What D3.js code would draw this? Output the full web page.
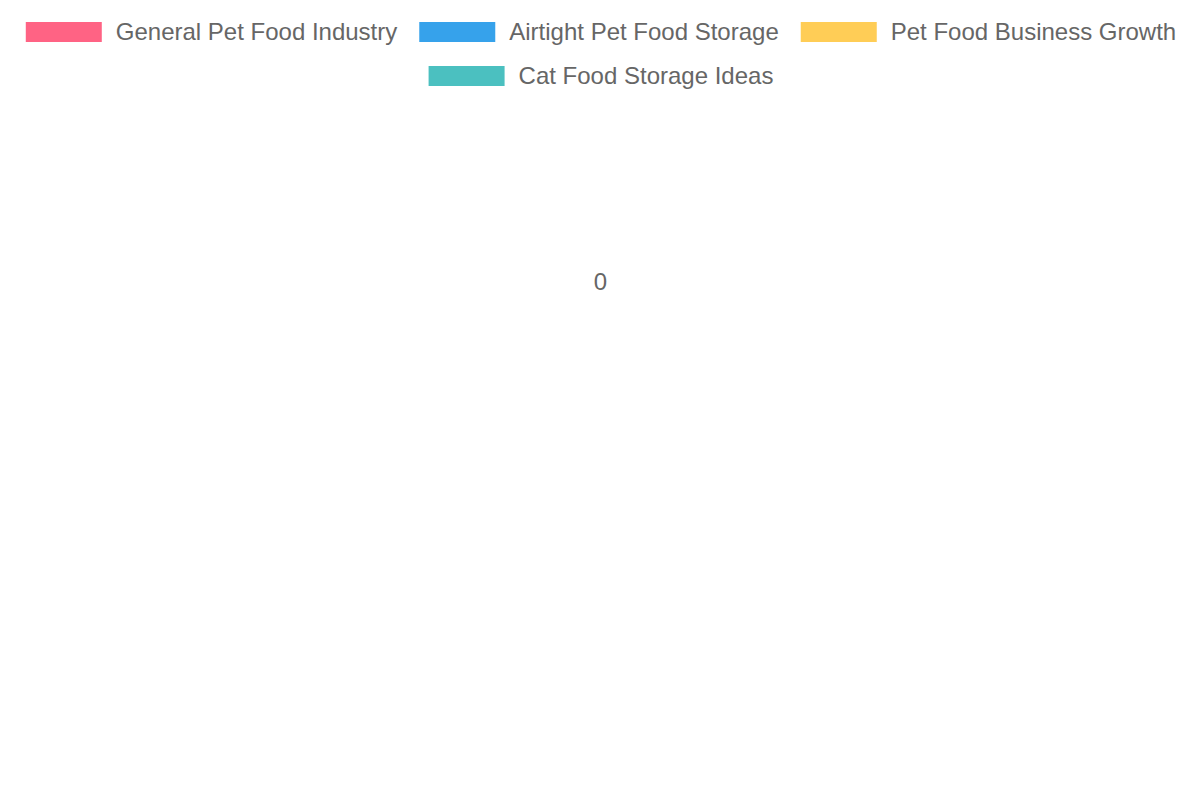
<!DOCTYPE html>
<html>
<head>
<meta charset="utf-8">
<script src="https://cdn.jsdelivr.net/npm/d3@7"></script>
<style>
html,body{margin:0;padding:0;background:#fff;}
svg{display:block;}
</style>
</head>
<body>
<svg id="chart" width="1200" height="800"></svg>
<script>
const categories = ["General Pet Food Industry", "Airtight Pet Food Storage", "Pet Food Business Growth", "Cat Food Storage Ideas"];
const values = [0, 0, 0, 0];
const colors = ["#ff6384", "#36a2eb", "#ffcd56", "#4bc0c0"];

(function () {
const W = 1200, H = 800;
const font = "Liberation Sans, Arial, Helvetica, sans-serif";
const svg = d3.select("#chart");

// Legend layout (centered rows)
const boxW = 76, boxH = 20, textGap = 14, itemGap = 22, rowH = 44, firstRowY = 22;
const legend = svg.append("g");
const measure = svg.append("text").attr("font-family", font).attr("font-size", 24);
const items = categories.map((c, i) => {
  measure.text(c);
  const tw = measure.node().getComputedTextLength();
  return {label: c, color: colors[i], w: boxW + textGap + tw};
});
measure.remove();
const rows = [[]];
let cur = 0;
items.forEach(it => {
  const add = (rows[rows.length - 1].length ? itemGap : 0) + it.w;
  if (cur + add > W - 20 && rows[rows.length - 1].length) { rows.push([it]); cur = it.w; }
  else { rows[rows.length - 1].push(it); cur += add; }
});
rows.forEach((row, r) => {
  const total = d3.sum(row, d => d.w) + itemGap * (row.length - 1);
  let x = (W - total) / 2 + 1;
  const y = firstRowY + r * rowH;
  row.forEach(it => {
    legend.append("rect").attr("x", x).attr("y", y).attr("width", boxW).attr("height", boxH).attr("fill", it.color);
    legend.append("text").attr("x", x + boxW + textGap).attr("y", y + boxH / 2).attr("dy", "0.32em")
      .attr("font-family", font).attr("font-size", 24).attr("fill", "#666").text(it.label);
    x += it.w + itemGap;
  });
});

// Polar area plot
const plotTop = firstRowY + rows.length * rowH - 12;
const plotBottom = 466;
const cx = W / 2, cy = (plotTop + plotBottom) / 2;
const radius = (plotBottom - plotTop) / 2;
const vmax = d3.max(values) || 0;
const r = d3.scaleLinear().domain([0, vmax]).range([0, vmax > 0 ? radius : 0]);
const angle = d3.scaleBand().domain(categories).range([0, 2 * Math.PI]);
const plot = svg.append("g").attr("transform", `translate(${cx},${cy})`);
const arc = d3.arc();
plot.selectAll("path.slice").data(categories).join("path").attr("class", "slice")
  .attr("d", (c, i) => arc({innerRadius: 0, outerRadius: r(values[i]) || 0, startAngle: angle(c), endAngle: angle(c) + angle.bandwidth()}))
  .attr("fill", (c, i) => colors[i]).attr("fill-opacity", 0.5).attr("stroke", "none");

// Radial ticks
const ticks = r.ticks(5);
plot.selectAll("text.tick").data(ticks).join("text").attr("class", "tick")
  .attr("x", 0.5).attr("y", d => -r(d)).attr("dy", "0.32em").attr("text-anchor", "middle")
  .attr("font-family", font).attr("font-size", 24).attr("fill", "#666").text(d => d3.format("d")(d));
})();
</script>
</body>
</html>
